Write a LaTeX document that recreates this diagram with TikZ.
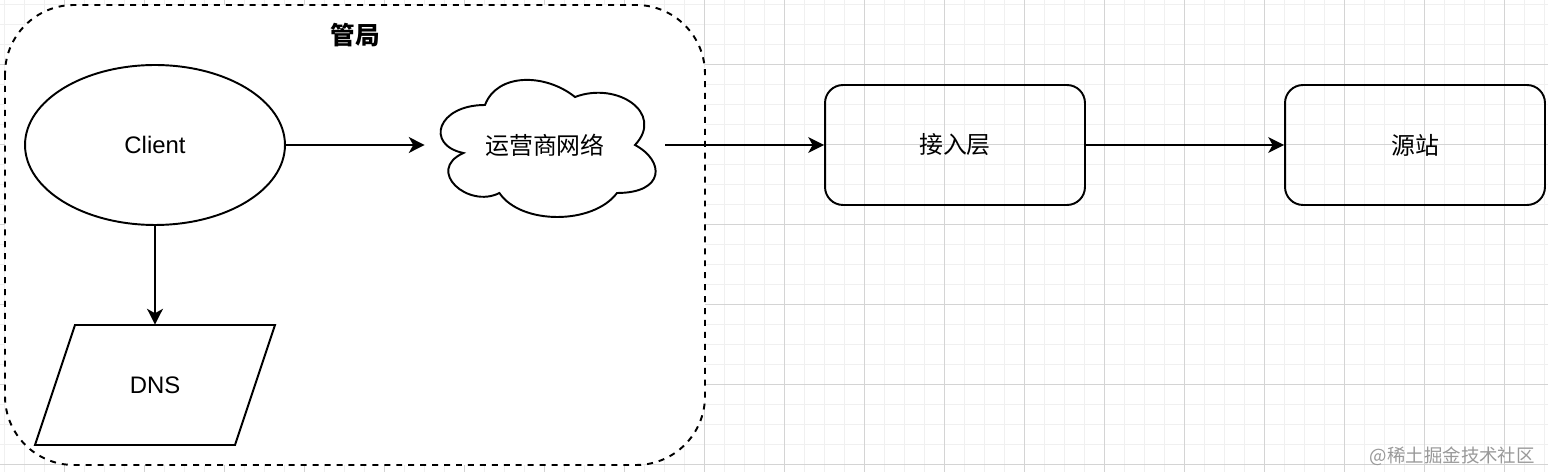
\documentclass[tikz,border=0pt]{standalone}
\usepackage{fontspec}
\setmainfont{Liberation Sans}
\newfontfamily\cjk{Noto Sans CJK SC}
\usetikzlibrary{shapes.geometric,arrows.meta}

\tikzset{
  gridminor/.style={black!6,line width=0.5pt},
  gridmajor/.style={black!17,line width=0.5pt},
  box/.style={draw,line width=1.1pt,rounded corners=0.36cm,minimum width=5.2cm,minimum height=2.4cm},
  link/.style={line width=1.1pt,-{Stealth[length=9pt,width=9pt,inset=2.5pt]}}
}

\begin{document}
\begin{tikzpicture}[x=0.02cm,y=-0.02cm,every node/.style={font=\fontsize{13.6}{16}\selectfont}]
\useasboundingbox (0,0) rectangle (1548,472);
\fill[white] (0,0) rectangle (1548,472);
% grid
\foreach \x in {4,24,...,1544}
  \draw[gridminor] (\x,0) -- (\x,472);
\foreach \y in {4,24,...,464}
  \draw[gridminor] (0,\y) -- (1548,\y);
\foreach \x in {64,144,...,1504}
  \draw[gridmajor] (\x,0) -- (\x,472);
\foreach \y in {64,144,...,464}
  \draw[gridmajor] (0,\y) -- (1548,\y);
% region
\draw[fill=white,line width=1.1pt,dash pattern=on 3.4pt off 3.4pt,rounded corners=1.38cm]
 (5,5) rectangle (705,465);
\node[font=\fontsize{14}{16}\selectfont\cjk\bfseries] (title) at (355,35) {管局};

\node[ellipse,draw,line width=1.1pt,minimum width=5.2cm,minimum height=3.2cm] (client) at (155,145) {Client};
\node[minimum width=4cm,minimum height=2.4cm] (dns) at (155,385) {DNS};
\draw[line width=1.1pt] (75,325) -- (275,325) -- (235,445) -- (35,445) -- cycle;

\node[minimum width=4.8cm,minimum height=3.2cm] (net) at (545,145) {\cjk 运营商网络};
\draw[line width=1.1pt] (485,105) .. controls (437,105) and (425,145) .. (463.4,153)
 .. controls (425,170.6) and (468.2,209) .. (499.4,193)
 .. controls (521,225) and (593,225) .. (617,193)
 .. controls (665,193) and (665,161) .. (635,145)
 .. controls (665,113) and (617,81) .. (575,97)
 .. controls (545,73) and (497,73) .. (485,105) -- cycle;

\node[box] (access) at (955,145) {\cjk 接入层};
\node[box] (origin) at (1415,145) {\cjk 源站};

\draw[link] (client.east) -- (net.west);
\draw[link] (client.south) -- (dns.north);
\draw[link] (net.east) -- (access.west);
\draw[link] (access.east) -- (origin.west);

\node[anchor=east,text=black!40,font=\cjk\fontsize{10.5}{12}\selectfont] (mark) at (1541,456) {@稀土掘金技术社区};
\end{tikzpicture}
\end{document}
